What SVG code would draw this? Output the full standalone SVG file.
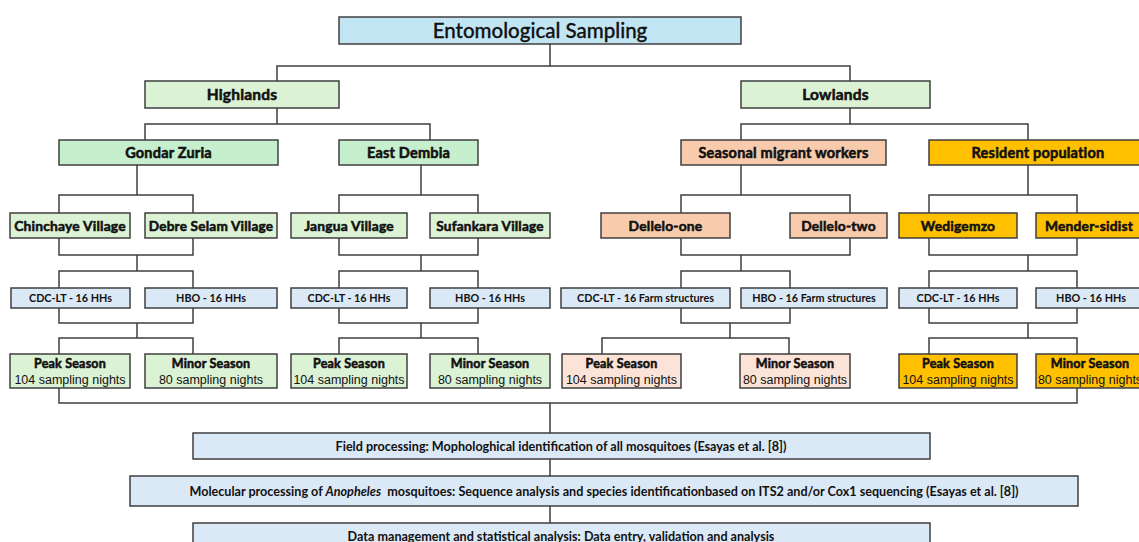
<svg xmlns="http://www.w3.org/2000/svg" width="1139" height="542" viewBox="0 0 1139 542">
<style>
rect{stroke:#3f3f3f;stroke-width:1.5}
.con path{fill:none;stroke:#3f3f3f;stroke-width:1.5}
text{text-anchor:middle;fill:#111}
.t{font-family:Lato,"Liberation Sans",sans-serif;font-size:20.5px;font-weight:500;stroke:#111;stroke-width:0.3}
.b{font-family:Lato,"DejaVu Sans",sans-serif;font-weight:700;stroke:#111;stroke-width:0.55;letter-spacing:0.2px}
.c{font-family:Lato,"Liberation Sans",sans-serif;font-size:10.8px;font-weight:700}
.a{font-family:"Liberation Sans",Arial,sans-serif;font-size:12.5px}
.f{font-family:Lato,"Liberation Sans",sans-serif;font-size:12.6px;font-weight:700}
.blue{fill:#c2e5f4}.lg{fill:#dcf2d5}.mg{fill:#c6efcd}.sal{fill:#f8cbad}.ls{fill:#fbe3d7}.gold{fill:#ffc000}.pb{fill:#dbe8f6}
</style>
<g class="con">
<path d="M550 44V66M277 81V66H850V81"/>
<path d="M277 108V124M145 140V124H430V140"/>
<path d="M850 108V124M741 140V124H1028V140"/>
<path d="M137 165V195M59 213V195H193V213"/>
<path d="M421 165V195M339 213V195H478V213"/>
<path d="M741 165V195M681 213V195H850V213"/>
<path d="M1028 165V195M929 213V195H1077V213"/>
<path d="M59 238V255H193V238M137 255V271M59 288V271H193V288"/>
<path d="M339 238V255H478V238M421 255V271M339 288V271H478V288"/>
<path d="M681 238V255H850V238M741 255V271M681 288V271H790V288"/>
<path d="M929 238V255H1077V238M1028 255V271M929 288V271H1077V288"/>
<path d="M59 308V323H193V308M137 323V338M59 354V338H193V354"/>
<path d="M339 308V323H478V308M421 323V338M339 354V338H478V354"/>
<path d="M681 308V323H790V308M730 323V338M602 354V338H789V354"/>
<path d="M929 308V323H1077V308M1028 323V338M929 354V338H1077V354"/>
<path d="M59 388V403H1077V388M550 403V433M550 459V476M550 506V523"/>
</g>
<g id="title"><rect class="blue" x="339" y="17" width="402" height="27"/><text class="t" x="540" y="38">Entomological Sampling</text></g>
<g id="highlands"><rect class="lg" x="145" y="81" width="194" height="27"/><text class="b" x="242" y="100" font-size="15.5">Highlands</text></g>
<g id="lowlands"><rect class="lg" x="741" y="81" width="189" height="27"/><text class="b" x="835.5" y="100" font-size="15.5">Lowlands</text></g>
<g id="gondar"><rect class="mg" x="59" y="140" width="219" height="25"/><text class="b" x="168.5" y="158" font-size="14.5">Gondar Zuria</text></g>
<g id="eastdembia"><rect class="mg" x="339" y="140" width="139" height="25"/><text class="b" x="408.5" y="158" font-size="14.5">East Dembia</text></g>
<g id="seasonal"><rect class="sal" x="681" y="140" width="205" height="25"/><text class="b" x="783.5" y="158" font-size="14.5">Seasonal migrant workers</text></g>
<g id="resident"><rect class="gold" x="929" y="140" width="220" height="25"/><text class="b" x="1038" y="158" font-size="14.5">Resident population</text></g>
<g id="chinchaye"><rect class="lg" x="10" y="213" width="120" height="25"/><text class="b" x="70" y="230.5" font-size="13.8">Chinchaye Village</text></g>
<g id="debre"><rect class="lg" x="145" y="213" width="132" height="25"/><text class="b" x="211" y="230.5" font-size="13.6">Debre Selam Village</text></g>
<g id="jangua"><rect class="lg" x="291" y="213" width="116" height="25"/><text class="b" x="349" y="230.5" font-size="13.8">Jangua Village</text></g>
<g id="sufankara"><rect class="lg" x="430" y="213" width="120" height="25"/><text class="b" x="490" y="230.5" font-size="13.6">Sufankara Village</text></g>
<g id="dellelo1"><rect class="sal" x="601" y="213" width="129" height="25"/><text class="b" x="665.5" y="230.5" font-size="13.8">Dellelo-one</text></g>
<g id="dellelo2"><rect class="sal" x="790" y="213" width="97" height="25"/><text class="b" x="838.5" y="230.5" font-size="13.8">Dellelo-two</text></g>
<g id="wedigemzo"><rect class="gold" x="899" y="213" width="118" height="25"/><text class="b" x="958" y="230.5" font-size="13.8">Wedigemzo</text></g>
<g id="mender"><rect class="gold" x="1036" y="213" width="110" height="25"/><text class="b" x="1089" y="230.5" font-size="13.8">Mender-sidist</text></g>
<g id="cdc1"><rect class="pb" x="11" y="288" width="119" height="20"/><text class="c" x="70.5" y="302">CDC-LT - 16 HHs</text></g>
<g id="hbo1"><rect class="pb" x="145" y="288" width="132" height="20"/><text class="c" x="211" y="302">HBO - 16 HHs</text></g>
<g id="cdc2"><rect class="pb" x="291" y="288" width="116" height="20"/><text class="c" x="349" y="302">CDC-LT - 16 HHs</text></g>
<g id="hbo2"><rect class="pb" x="430" y="288" width="120" height="20"/><text class="c" x="490" y="302">HBO - 16 HHs</text></g>
<g id="cdc3"><rect class="pb" x="561" y="288" width="169" height="20"/><text class="c" x="645.5" y="302">CDC-LT - 16 Farm structures</text></g>
<g id="hbo3"><rect class="pb" x="741" y="288" width="146" height="20"/><text class="c" x="814" y="302">HBO - 16 Farm structures</text></g>
<g id="cdc4"><rect class="pb" x="899" y="288" width="118" height="20"/><text class="c" x="958" y="302">CDC-LT - 16 HHs</text></g>
<g id="hbo4"><rect class="pb" x="1036" y="288" width="110" height="20"/><text class="c" x="1091" y="302">HBO - 16 HHs</text></g>
<g id="peak1"><rect class="lg" x="10" y="354" width="120" height="34"/><text class="b" x="70" y="368" font-size="12.5">Peak Season</text><text class="a" x="70" y="384">104 sampling nights</text></g>
<g id="minor1"><rect class="lg" x="145" y="354" width="132" height="34"/><text class="b" x="211" y="368" font-size="12.5">Minor Season</text><text class="a" x="211" y="384">80 sampling nights</text></g>
<g id="peak2"><rect class="lg" x="291" y="354" width="116" height="34"/><text class="b" x="349" y="368" font-size="12.5">Peak Season</text><text class="a" x="349" y="384">104 sampling nights</text></g>
<g id="minor2"><rect class="lg" x="430" y="354" width="120" height="34"/><text class="b" x="490" y="368" font-size="12.5">Minor Season</text><text class="a" x="490" y="384">80 sampling nights</text></g>
<g id="peak3"><rect class="ls" x="562" y="354" width="119" height="34"/><text class="b" x="621.5" y="368" font-size="12.5">Peak Season</text><text class="a" x="621.5" y="384">104 sampling nights</text></g>
<g id="minor3"><rect class="ls" x="740" y="354" width="110" height="34"/><text class="b" x="795" y="368" font-size="12.5">Minor Season</text><text class="a" x="795" y="384">80 sampling nights</text></g>
<g id="peak4"><rect class="gold" x="899" y="354" width="118" height="34"/><text class="b" x="958" y="368" font-size="12.5">Peak Season</text><text class="a" x="958" y="384">104 sampling nights</text></g>
<g id="minor4"><rect class="gold" x="1036" y="354" width="110" height="34"/><text class="b" x="1090" y="368" font-size="12.5">Minor Season</text><text class="a" x="1090" y="384">80 sampling nights</text></g>
<g id="field"><rect class="pb" x="193" y="433" width="737" height="26"/><text class="f" x="561" y="450.5">Field processing: Mophologhical identification of all mosquitoes (Esayas et al. [8])</text></g>
<g id="molecular"><rect class="pb" x="130" y="476" width="948" height="30"/><text class="f" x="604" y="495.5">Molecular processing of <tspan font-style="italic">Anopheles</tspan>&#160; mosquitoes: Sequence analysis and species identificationbased on ITS2 and/or Cox1 sequencing (Esayas et al. [8])</text></g>
<g id="data"><rect class="pb" x="193" y="523" width="737" height="30"/><text class="f" x="561" y="540.5">Data management and statistical analysis: Data entry, validation and analysis</text></g>
</svg>
